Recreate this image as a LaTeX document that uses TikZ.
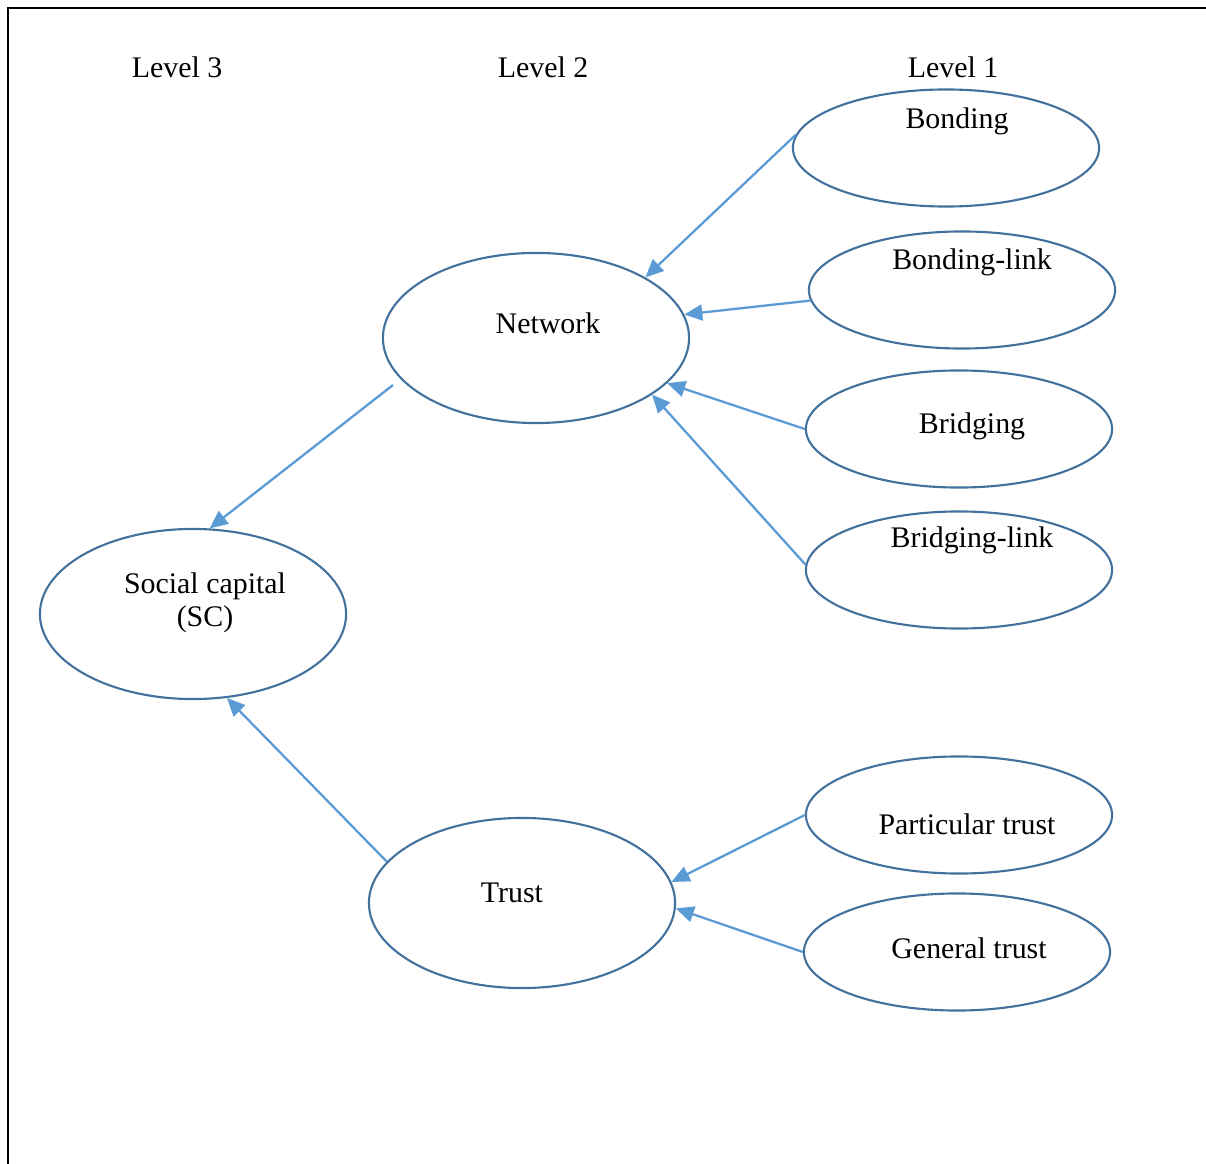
\documentclass[tikz,border=0pt]{standalone}
\usepackage{fontspec}
\setmainfont{Liberation Serif}
\usetikzlibrary{shapes.geometric,arrows.meta}

\definecolor{ovalblue}{RGB}{65,113,156}
\definecolor{linkblue}{RGB}{91,155,213}

\tikzset{
  oval/.style={ellipse, draw=ovalblue, line width=0.6pt, minimum width=3.06cm, inner sep=0pt},
  link/.style={draw=linkblue, line width=0.65pt, -{Triangle[length=1.8mm,width=1.6mm]}},
  lbl/.style={font=\fontsize{8.5}{9.4}\selectfont, inner sep=0pt},
  ovallbl/.style={lbl, yshift=-0.8pt}
}

\begin{document}
\begin{tikzpicture}[x=0.01cm,y=-0.01cm]
    \useasboundingbox (0,0) rectangle (1206,1164);

    % Frame (top and left only)
    \draw[line width=0.6pt] (8,1164) -- (8,8) -- (1206,8);

    % Level headings
    \foreach \x/\n in {177/3, 543/2, 953/1} {
        \node[lbl] (lev\n) at (\x,67) {Level \n};
    }

    % Level 1 ovals with their texts
    \foreach \nm/\x/\y/\tx/\ty/\txt in {
    bond/946/148/957/119/Bonding,
    bondl/962/290/972/260/Bonding-link,
    brid/959/429/972/424/Bridging,
    bridl/959/570/972/538/Bridging-link,
    part/959/815/967/821/Particular trust,
    gen/957/952/969/945/General trust} {
        \node[oval, minimum height=1.17cm] (\nm) at (\x,\y) {};
        \node[ovallbl] (\nm-txt) at (\tx,\ty) {\txt};
    }

    % Level 2 and level 3 ovals
    \node[oval, minimum height=1.7cm] (net) at (536,338) {};
    \node[ovallbl] (net-txt) at (548,320) {Network};
    \node[oval, minimum height=1.7cm] (trust) at (522,903) {};
    \node[ovallbl] (trust-txt) at (512,890) {Trust};
    \node[oval, minimum height=1.7cm] (sc) at (193,614) {};
    \node[ovallbl, align=center] (sc-txt) at (205,600) {Social capital\\(SC)};

    % Arrows into network
    \draw[link] (bond.175) -- (net.29);
    \draw[link] (bondl.184) -- (net.9);
    \draw[link] (brid.180) -- (net.341);
    \draw[link] (bridl.178) -- (net.334);

    % Arrows into trust
    \draw[link] (part.180) -- (trust.8);
    \draw[link] (gen.180) -- (trust.358);

    % Arrows into social capital
    \coordinate (net-out) at (393,385);
    \draw[link] (net-out) -- (sc.79);
    \draw[link] (trust.163) -- (sc.292);

\end{tikzpicture}
\end{document}
